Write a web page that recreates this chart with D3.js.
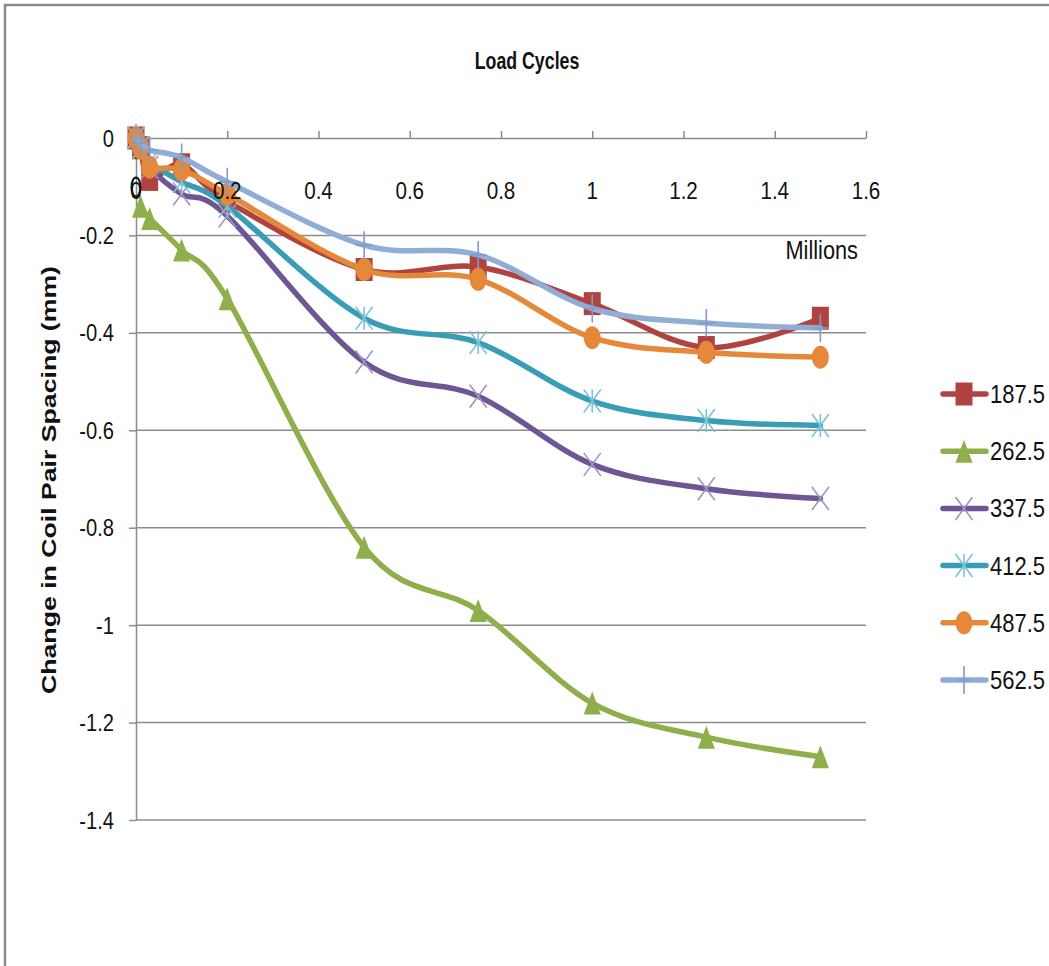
<!DOCTYPE html>
<html><head><meta charset="utf-8">
<script src="https://cdn.jsdelivr.net/npm/d3@7"></script>
<style>
html,body{margin:0;padding:0;background:#fff;}
svg{display:block;}
text{font-family:"Liberation Sans",Arial,sans-serif;}
</style></head>
<body>
<svg id="chart" width="1049" height="966"></svg>
<script>
// ---- data ----
const xValues = [0, 0.01, 0.03, 0.1, 0.2, 0.5, 0.75, 1, 1.25, 1.5];
const seriesNames = ["187.5", "262.5", "337.5", "412.5", "487.5", "562.5"];
const s187 = [0, -0.02, -0.085, -0.055, -0.13, -0.27, -0.265, -0.34, -0.43, -0.37];
const s262 = [null, -0.14, -0.165, -0.23, -0.33, -0.84, -0.97, -1.16, -1.23, -1.27];
const s337 = [0, -0.02, -0.06, -0.115, -0.16, -0.46, -0.53, -0.67, -0.72, -0.74];
const s412 = [0, -0.02, -0.05, -0.09, -0.14, -0.37, -0.42, -0.54, -0.58, -0.59];
const s487 = [0, -0.02, -0.06, -0.065, -0.115, -0.27, -0.29, -0.41, -0.44, -0.45];
const s562 = [0, -0.01, -0.025, -0.04, -0.09, -0.22, -0.24, -0.35, -0.38, -0.39];
const xTicks = [0, 0.2, 0.4, 0.6, 0.8, 1, 1.2, 1.4, 1.6];
const yTicks = [0, -0.2, -0.4, -0.6, -0.8, -1, -1.2, -1.4];
const titleText = "Load Cycles";
const yLabel = "Change in Coil Pair Spacing (mm)";
const unitsLabel = "Millions";

const seriesValues = [s187, s262, s337, s412, s487, s562];
const colors = ["#B0433F", "#8FAE4C", "#6E5695", "#3A9DB6", "#E5883A", "#91ADD6"];
const markerColors = ["#B0433F", "#8FAE4C", "#A393C2", "#7CC3D6", "#E5883A", "#7F9CCB"];
const markerTypes = ["square", "triangle", "x", "asterisk", "circle", "plus"];
const fmt = d => String(+d.toFixed(1));

const svg = d3.select("#chart");
const x = d3.scaleLinear().domain([0, 1.6]).range([136, 866]);
const y = d3.scaleLinear().domain([0, -1.4]).range([138, 820]);

function label(parent, tx, ty, str, size, anchor, weight, sx) {
  return parent.append("text")
    .attr("transform", `translate(${tx},${ty}) scale(${sx || 0.85},1)`)
    .attr("text-anchor", anchor).attr("font-size", size)
    .attr("font-weight", weight || "normal").attr("fill", "#111").text(str);
}

// chart border
svg.append("path").attr("d", "M5,966 L5,5 L1049,5")
  .attr("fill", "none").attr("stroke", "#8a8a8a").attr("stroke-width", 2.5);

// gridlines
svg.append("g").selectAll("line").data(yTicks.filter(d => d !== 0)).join("line")
  .attr("x1", x(0)).attr("x2", x(1.6)).attr("y1", d => y(d)).attr("y2", d => y(d))
  .attr("stroke", "#8c8c8c").attr("stroke-width", 1.5);

// y axis (left)
const gy = svg.append("g").attr("transform", `translate(${x(0)},0)`)
  .call(d3.axisLeft(y).tickValues(yTicks).tickSize(7).tickSizeOuter(0));
gy.select(".domain").attr("stroke", "#8c8c8c").attr("stroke-width", 1.5);
gy.selectAll(".tick line").attr("stroke", "#8c8c8c").attr("stroke-width", 1.5);
gy.selectAll(".tick text").remove();

// x axis at y=0 with ticks upward
const gx = svg.append("g").attr("transform", `translate(0,${y(0)})`)
  .call(d3.axisTop(x).tickValues(xTicks).tickSize(7).tickSizeOuter(0));
gx.select(".domain").attr("stroke", "#8c8c8c").attr("stroke-width", 1.5);
gx.selectAll(".tick line").attr("stroke", "#8c8c8c").attr("stroke-width", 1.5);
gx.selectAll(".tick text").remove();

// marker shapes
function markerPath(type) {
  const w = 8.5, h = 11.5;
  switch (type) {
    case "square": return `M${-w},${-h}H${w}V${h}H${-w}Z`;
    case "triangle": return `M0,${-h}L${w},${h}L${-w},${h}Z`;
    case "circle": return `M${-w},0A${w},${h} 0 1,0 ${w},0A${w},${h} 0 1,0 ${-w},0Z`;
    case "x": return `M${-w},${-h}L${w},${h}M${-w},${h}L${w},${-h}`;
    case "asterisk": return `M${-w},${-h}L${w},${h}M${-w},${h}L${w},${-h}M0,${-h}V${h}`;
    case "plus": return `M0,-14V14M${-w},0H${w}`;
  }
}
const filled = t => t === "square" || t === "triangle" || t === "circle";

const line = d3.line().defined(d => d[1] !== null)
  .x(d => x(d[0])).y(d => y(d[1])).curve(d3.curveCatmullRom.alpha(0));

const plot = svg.append("g");
seriesValues.forEach((vals, i) => {
  const pts = xValues.map((xv, j) => [xv, vals[j]]).filter(p => p[1] !== null);
  const g = plot.append("g");
  g.append("path").datum(pts).attr("d", line)
    .attr("fill", "none").attr("stroke", colors[i]).attr("stroke-width", 5.5)
    .attr("stroke-linejoin", "round").attr("stroke-linecap", "round");
  g.selectAll("path.m").data(pts).join("path").attr("class", "m")
    .attr("transform", d => `translate(${x(d[0])},${y(d[1])})`)
    .attr("d", markerPath(markerTypes[i]))
    .attr("fill", filled(markerTypes[i]) ? markerColors[i] : "none")
    .attr("stroke", markerColors[i]).attr("stroke-width", filled(markerTypes[i]) ? 0 : 1.6);
});

// annotation ellipse near origin
svg.append("ellipse").attr("cx", 136).attr("cy", 187).attr("rx", 4.5).attr("ry", 9.5)
  .attr("fill", "none").attr("stroke", "#111").attr("stroke-width", 2);

// tick labels
const tl = svg.append("g");
yTicks.forEach(d => label(tl, 114, y(d) + 8.5, fmt(d), 24, "end", "normal", 0.84));
xTicks.forEach(d => label(tl, x(d), 199, fmt(d), 24, "middle", "normal", 0.86));

// titles
label(svg, 527, 69, titleText, 24, "middle", "bold", 0.74);
label(svg, 858, 259, unitsLabel, 25, "end", "normal", 0.87);
svg.append("text").attr("transform", "translate(56,480) rotate(-90)").attr("text-anchor", "middle")
  .attr("font-size", 20).attr("font-weight", "bold").attr("fill", "#111")
  .attr("textLength", 428).attr("lengthAdjust", "spacingAndGlyphs").text(yLabel);

// legend
const legend = svg.append("g");
seriesNames.forEach((name, i) => {
  const ly = 394 + i * 57.2;
  const g = legend.append("g").attr("transform", `translate(0,${ly})`);
  g.append("line").attr("x1", 943).attr("x2", 986).attr("y1", 0).attr("y2", 0)
    .attr("stroke", colors[i]).attr("stroke-width", 5.5).attr("stroke-linecap", "round");
  g.append("path").attr("transform", "translate(964,0)").attr("d", markerPath(markerTypes[i]))
    .attr("fill", filled(markerTypes[i]) ? markerColors[i] : "none")
    .attr("stroke", markerColors[i]).attr("stroke-width", filled(markerTypes[i]) ? 0 : 1.6);
  label(g, 990, 9, name, 25, "start", "normal", 0.88);
});
</script>
</body></html>
